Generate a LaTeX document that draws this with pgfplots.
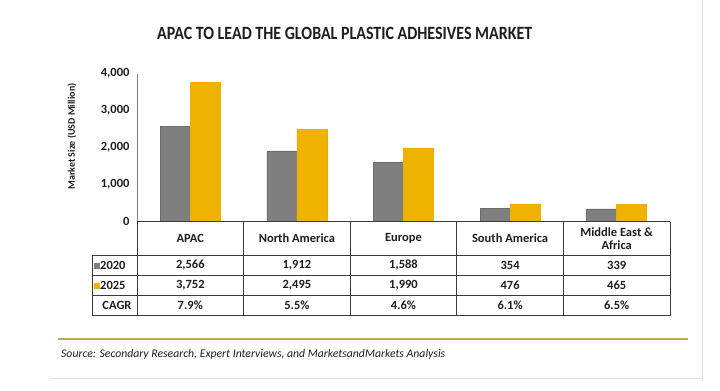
\documentclass[border=0pt]{standalone}
\usepackage{pgfplots}
\pgfplotsset{compat=1.18}
\usepackage{fontspec}
\setmainfont{Carlito}
\usepackage{graphicx}
\definecolor{bargray}{HTML}{7F7F7F}
\definecolor{baryellow}{HTML}{EEB200}
\definecolor{gold}{HTML}{C4A65A}
\definecolor{gridc}{HTML}{3A3A3A}
\definecolor{axgray}{HTML}{808080}
\definecolor{txt}{HTML}{1E1E1E}
\definecolor{frame}{HTML}{E2E2E2}
\begin{document}
\begin{tikzpicture}
\begin{scope}[x=1pt,y=-1pt]
\useasboundingbox (0,0) rectangle (720,390);
\fill[white] (0,0) rectangle (720,390);
\end{scope}
\begin{axis}[
 at={(137pt,-221pt)}, anchor=south west,
 width=533pt, height=148pt, scale only axis,
 xmin=-0.5, xmax=4.5, ymin=0, ymax=4000,
 axis x line=none, axis y line*=left,
 y axis line style={draw=axgray, line width=1pt, -},
 ytick={0,1000,2000,3000,4000},
 major tick length=0pt,
 yticklabel style={font=\fontsize{12.5}{14}\selectfont\bfseries, text=txt, xshift=-4pt},
 /pgf/number format/assume math mode=true,
 /pgf/number format/1000 sep={,},
 scaled y ticks=false,
 ybar=0pt, bar width=30pt,
 clip=false,
]
\addplot[fill=bargray, draw=bargray!85!black, line width=0.5pt] coordinates {(0,2566) (1,1912) (2,1588) (3,354) (4,339)};
\addplot[fill=baryellow, draw=baryellow!90!orange, line width=0.5pt] coordinates {(0,3752) (1,2495) (2,1990) (3,476) (4,465)};
\end{axis}
\begin{scope}[x=1pt,y=-1pt]
% title
\node[anchor=west, inner sep=0, text=txt] at (157,33) {\resizebox{375pt}{12.3pt}{\bfseries APAC TO LEAD THE GLOBAL PLASTIC ADHESIVES MARKET}};
% y label
\node[rotate=90, font=\fontsize{10}{11}\selectfont\bfseries, text=txt] at (72,136) {Market Size (USD Million)};
% table grid
\begin{scope}[line width=0.9pt, draw=gridc]
\draw[gridc] (137,221) -- (670,221);
\foreach \y in {255,275,295,315} \draw[gridc] (92,\y) -- (670,\y);
\foreach \x in {137,243.6,350.2,456.8,563.4,670} \draw[gridc] (\x,221) -- (\x,315);
\draw[gridc] (92,255) -- (92,315);
\end{scope}
\begin{scope}[every node/.style={font=\fontsize{12.5}{13.5}\selectfont\bfseries, text=txt, align=center}]
\node at (190.3,238) {APAC};
\node at (296.9,238) {North America};
\node at (403.5,238) {Europe};
\node at (510.1,238) {South America};
\node at (616.7,238) {Middle East \&\\Africa};
\node at (190.3,265) {2,566};
\node at (296.9,265) {1,912};
\node at (403.5,265) {1,588};
\node at (510.1,265) {354};
\node at (616.7,265) {339};
\node at (190.3,285) {3,752};
\node at (296.9,285) {2,495};
\node at (403.5,285) {1,990};
\node at (510.1,285) {476};
\node at (616.7,285) {465};
\node at (190.3,305) {7.9\%};
\node at (296.9,305) {5.5\%};
\node at (403.5,305) {4.6\%};
\node at (510.1,305) {6.1\%};
\node at (616.7,305) {6.5\%};
\node[anchor=west, inner sep=0] at (100,265) {2020};
\node[anchor=west, inner sep=0] at (100,285) {2025};
\node at (117,305) {CAGR};
\end{scope}
\fill[bargray] (94,262) rectangle (100,268);
\fill[baryellow] (94,282) rectangle (100,288);
% bottom rule and source
\draw[gold, line width=1.6pt] (58,338.3) -- (688,338.3);
\node[anchor=west, inner sep=0, text=txt] at (61,354) {\resizebox{384pt}{!}{\fontsize{11}{12}\selectfont\itshape Source: Secondary Research, Expert Interviews, and MarketsandMarkets Analysis}};
% frame
\draw[frame, line width=1pt] (50,378) -- (702,378) -- (702,0);
\end{scope}
\end{tikzpicture}
\end{document}
